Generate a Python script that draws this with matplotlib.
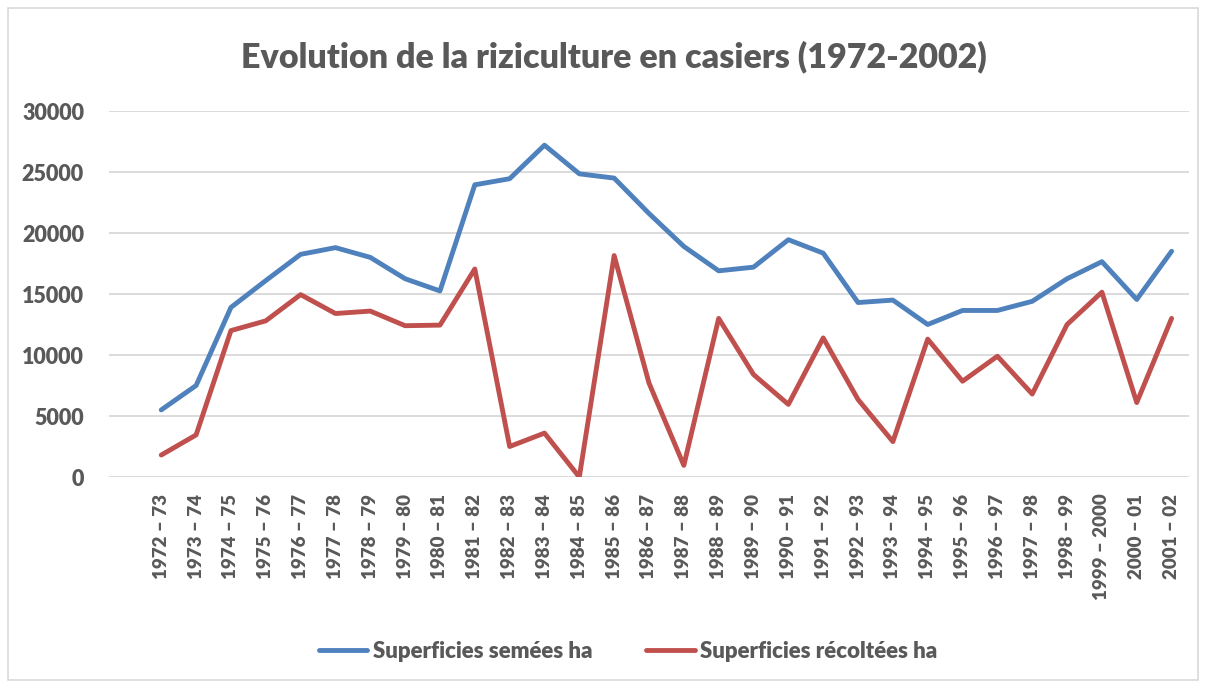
import matplotlib
matplotlib.use("Agg")
import matplotlib.pyplot as plt
from matplotlib.patches import Rectangle

# campaigns (x categories)
campagnes = ["1972 – 73", "1973 – 74", "1974 – 75", "1975 – 76", "1976 – 77", "1977 – 78",
             "1978 – 79", "1979 – 80", "1980 – 81", "1981 – 82", "1982 – 83", "1983 – 84",
             "1984 – 85", "1985 – 86", "1986 – 87", "1987 – 88", "1988 – 89", "1989 – 90",
             "1990 – 91", "1991 – 92", "1992 – 93", "1993 – 94", "1994 – 95", "1995 – 96",
             "1996 – 97", "1997 – 98", "1998 – 99", "1999 – 2000", "2000 – 01", "2001 – 02"]

semees = [5500, 7500, 13900, 16100, 18250, 18800, 18000, 16250, 15250, 23950, 24450, 27200,
          24850, 24500, 21600, 18900, 16900, 17200, 19450, 18350, 14300, 14500, 12500, 13650,
          13650, 14400, 16250, 17650, 14550, 18500]

recoltees = [1800, 3450, 12000, 12800, 14950, 13400, 13600, 12400, 12450, 17050, 2500, 3600,
             0, 18150, 7700, 950, 13000, 8400, 5950, 11400, 6350, 2900, 11300, 7850,
             9900, 6800, 12500, 15150, 6100, 13000]

yticks = [0, 5000, 10000, 15000, 20000, 25000, 30000]

GREY = "#595959"
FONT = "Lato"

W, H = 1205, 683
fig = plt.figure(figsize=(W / 100, H / 100), dpi=100)
fig.patches.append(Rectangle((8 / W, 3 / H), 1190 / W, 672 / H, transform=fig.transFigure,
                             fill=False, edgecolor="#D9D9D9", lw=1.2))

ax = fig.add_axes([109 / W, 1 - 477 / H, 1080 / W, 366 / H])
xs = list(range(len(campagnes)))
ax.plot(xs, semees, color="#4F81BD", lw=3.5, solid_capstyle="round", solid_joinstyle="round",
        label="Superficies semées ha", zorder=3)
ax.plot(xs, recoltees, color="#C0504D", lw=3.5, solid_capstyle="round", solid_joinstyle="round",
        label="Superficies récoltées ha", zorder=3)

ax.set_xlim(-1.5, 29.5)
ax.set_ylim(0, 30000)
ax.set_yticks(yticks)
ax.set_yticklabels([str(v) for v in yticks], fontsize=15.5, fontweight="heavy", color=GREY,
                   family=FONT)
ax.set_xticks(xs)
ax.set_xticklabels(campagnes, rotation=90, fontsize=13.5, fontweight="heavy", color=GREY,
                   family=FONT, va="top")
ax.tick_params(axis="both", length=0)
ax.tick_params(axis="y", pad=18)
ax.tick_params(axis="x", pad=12)
ax.grid(axis="y", color="#D9D9D9", lw=1.3)
ax.set_axisbelow(True)
for s in ax.spines.values():
    s.set_visible(False)

fig.text(614 / W, 1 - 57 / H, "Evolution de la riziculture en casiers (1972-2002)",
         ha="center", va="center", fontsize=24.5, fontweight="heavy", color=GREY, family=FONT)

leg = fig.legend(loc="center", bbox_to_anchor=(628 / W, 1 - 651 / H), ncol=2, frameon=False,
                 handlelength=2.2, handletextpad=0.25, columnspacing=2.4,
                 prop={"family": FONT, "weight": "heavy", "size": 16})
for t in leg.get_texts():
    t.set_color(GREY)

fig.savefig("out.png", dpi=100)
